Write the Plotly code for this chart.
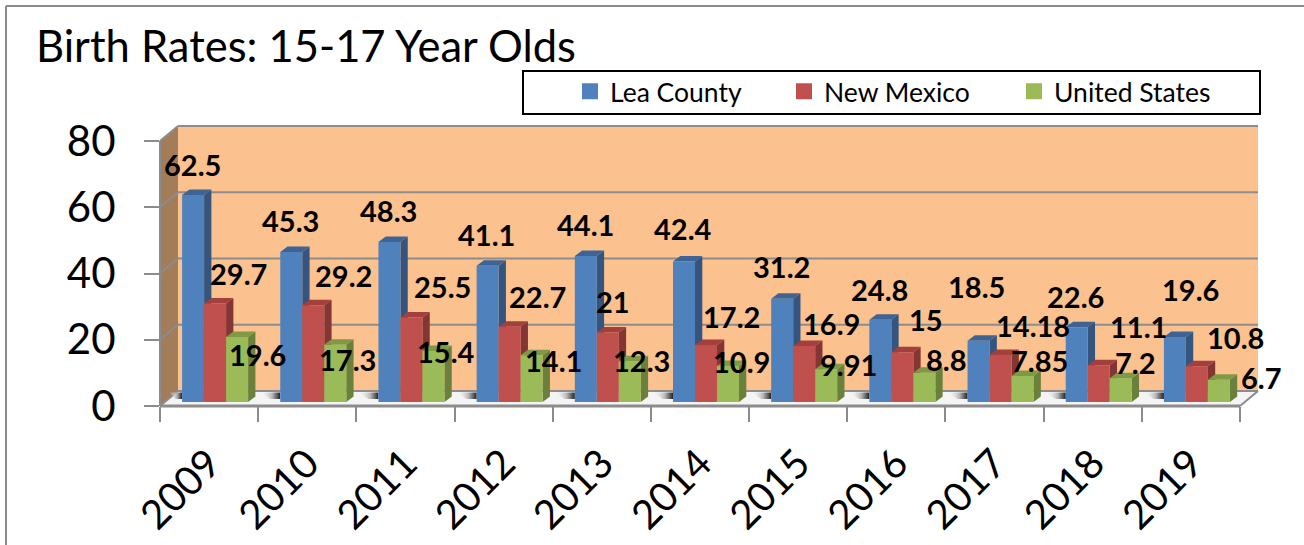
import plotly.graph_objects as go

years = ["2009", "2010", "2011", "2012", "2013", "2014", "2015", "2016", "2017", "2018", "2019"]
lea_county = [62.5, 45.3, 48.3, 41.1, 44.1, 42.4, 31.2, 24.8, 18.5, 22.6, 19.6]
new_mexico = [29.7, 29.2, 25.5, 22.7, 21, 17.2, 16.9, 15, 14.18, 11.1, 10.8]
united_states = [19.6, 17.3, 15.4, 14.1, 12.3, 10.9, 9.91, 8.8, 7.85, 7.2, 6.7]
y_ticks = [0, 20, 40, 60, 80]
title_text = "Birth Rates: 15-17 Year Olds"

series_names = ["Lea County", "New Mexico", "United States"]
series_values = [lea_county, new_mexico, united_states]

# styles
FONT = "Lato"
front_colors = ["#4F81BD", "#C0504D", "#9BBB59"]
side_colors = ["#35557F", "#843634", "#6A803B"]
top_colors = ["#3D6494", "#A33F3D", "#7F9A45"]
WALL = "#FBC18F"
SIDE_WALL = "#A37C5A"
GRID = "#8C8C8C"

# layout in pixels
W, H = 1304, 545
L, R, Y0, Y80 = 160, 1240, 406, 141      # front plane of the axes
DX, DY = 18, 15                          # depth of the walls
BAR_DX, BAR_DY = 6, 4                    # bars sit a little behind the front plane
FACE_DX, FACE_DY = 7.3, 5.5              # depth of each bar
CAT_W = (R - L) / len(years)
UNIT = (Y0 - Y80) / 80
BAR_W = 22 / CAT_W
HALF = 1.5 * BAR_W
ddx = FACE_DX / CAT_W
ddy = FACE_DY / UNIT


def px(x):
    return x / W


def py(y):
    return 1 - y / H


def vy(v):
    return Y0 - v * UNIT


def poly(points, fill, line=None):
    path = "M" + " L".join(f"{px(a):.5f},{py(b):.5f}" for a, b in points) + " Z"
    return dict(type="path", xref="paper", yref="paper", path=path, fillcolor=fill,
                line=dict(width=0) if line is None else line, layer="below")


def seg(x0, y0, x1, y1, width=2, color=GRID):
    return dict(type="line", xref="paper", yref="paper", x0=px(x0), y0=py(y0), x1=px(x1), y1=py(y1),
                line=dict(color=color, width=width), layer="below")


fig = go.Figure()

# main axis trace: carries the year categories
fig.add_trace(go.Scatter(x=years, y=[0] * len(years), mode="markers", marker=dict(opacity=0),
                         showlegend=False, hoverinfo="skip", xaxis="x", yaxis="y"))

# floor shadows between the groups
for i in range(len(years)):
    xl = -0.5 if i == 0 else i - 1 + HALF + ddx
    xr = i - HALF
    span = xr - xl
    fig.add_trace(go.Scatter(
        x=[xl + 0.2 * span, xr, xr, xl + 0.6 * span],
        y=[2.9, 2.9, 0.9, 0.9], mode="none", fill="toself",
        fillgradient=dict(type="horizontal", colorscale=[[0, "rgba(244,244,244,0)"], [0.6, "#b5b5b5"], [1, "#222222"]]),
        showlegend=False, hoverinfo="skip", xaxis="x2", yaxis="y2"))

# side and top faces of the bars, computed from the values
for k, values in enumerate(series_values):
    side_x, side_y, top_x, top_y = [], [], [], []
    for i, v in enumerate(values):
        a = i - HALF + k * BAR_W
        b = a + BAR_W
        side_x += [b, b, b + ddx, b + ddx, None]
        side_y += [0, v, v + ddy, ddy, None]
        top_x += [a, b, b + ddx, a + ddx, None]
        top_y += [v, v, v + ddy, v + ddy, None]
    fig.add_trace(go.Scatter(x=side_x, y=side_y, mode="none", fill="toself", fillcolor=side_colors[k],
                             showlegend=False, hoverinfo="skip", xaxis="x2", yaxis="y2"))
    fig.add_trace(go.Scatter(x=top_x, y=top_y, mode="none", fill="toself", fillcolor=top_colors[k],
                             showlegend=False, hoverinfo="skip", xaxis="x2", yaxis="y2"))

# front faces
for k, values in enumerate(series_values):
    fig.add_trace(go.Bar(x=list(range(len(years))), y=values, name=series_names[k],
                         marker=dict(color=front_colors[k], line=dict(width=0)),
                         showlegend=False, xaxis="x3", yaxis="y3"))

# one legend per series so each entry sits where it should
legend_names = ["legend", "legend2", "legend3"]
legend_px = [570, 784, 1014]
for k, name in enumerate(series_names):
    fig.add_trace(go.Scatter(x=[None], y=[None], mode="markers", name=name,
                             marker=dict(color=front_colors[k], symbol="square", size=16),
                             legend=legend_names[k], xaxis="x3", yaxis="y3"))

# walls, floor, grid
shapes = [
    poly([(L + DX, vy(80) - DY), (R + DX, vy(80) - DY), (R + DX, vy(0) - DY), (L + DX, vy(0) - DY)], WALL),
    poly([(L, vy(80)), (L + DX, vy(80) - DY), (L + DX, vy(0) - DY), (L, vy(0))], SIDE_WALL),
    poly([(L, vy(0)), (L + DX, vy(0) - DY), (R + DX, vy(0) - DY), (R, vy(0))], "#F4F4F4"),
    seg(L, vy(0), L, vy(80)),
    seg(L + DX, vy(0) - DY, R + DX, vy(0) - DY),
    seg(R, vy(0), R + DX, vy(0) - DY),
    seg(L, vy(0), R, vy(0), 3),
    # chart frame
    seg(6, 6, W, 6, 2, "#8A8A8A"),
    seg(6, 6, 6, H, 2, "#8A8A8A"),
    # legend box
    dict(type="rect", xref="paper", yref="paper", x0=px(523), x1=px(1260), y0=py(114), y1=py(71),
         fillcolor="white", line=dict(color="black", width=2), layer="below"),
]
for t in y_ticks:
    shapes.append(seg(L, vy(t), L + DX, vy(t) - DY))
    if t > 0:
        shapes.append(seg(L + DX, vy(t) - DY, R + DX, vy(t) - DY))

# data labels: positions in pixels (label centres), hand placed in the source chart
label_px = [
    [(192, 165), (290, 220), (388, 210), (486, 234), (585, 224), (683, 229), (781, 266), (879, 289), (977, 286), (1075, 296), (1190, 289)],
    [(238, 273), (343, 275), (442, 286), (537, 296), (613, 301), (731, 316), (831, 323), (926, 319), (1033, 325), (1138, 326), (1235, 337)],
    [(257, 354), (347, 359), (446, 351), (553, 360), (641, 360), (741, 361), (848, 364), (946, 359), (1039, 360), (1135, 362), (1261, 377)],
]
annotations = []
for values, places in zip(series_values, label_px):
    for v, (ax_, ay_) in zip(values, places):
        annotations.append(dict(xref="paper", yref="paper", x=px(ax_), y=py(ay_), text=f"<b>{v:g}</b>",
                                showarrow=False, xanchor="center", yanchor="middle",
                                font=dict(family=FONT, size=29, color="black")))

dom_x = [px(L), px(R)]
dom_y = [py(Y0), py(Y80)]
bar_dom_x = [px(L + BAR_DX), px(R + BAR_DX)]
bar_dom_y = [py(Y0 - BAR_DY), py(Y80 - BAR_DY)]
rng_x = [-0.5, len(years) - 0.5]


def hidden_x():
    return dict(domain=bar_dom_x, range=rng_x, visible=False, fixedrange=True)


def hidden_y():
    return dict(domain=bar_dom_y, range=[0, 80], visible=False, fixedrange=True)


legend_common = dict(orientation="h", xanchor="left", yanchor="middle", y=py(91.5),
                     bgcolor="rgba(0,0,0,0)", borderwidth=0, font=dict(family=FONT, size=26.5, color="black"),
                     itemclick=False, itemdoubleclick=False)

layout_legends = {legend_names[k]: dict(x=px(legend_px[k]), **legend_common) for k in range(3)}

fig.update_layout(
    width=W, height=H, margin=dict(l=0, r=0, t=0, b=0, pad=0, autoexpand=False),
    paper_bgcolor="white", plot_bgcolor="rgba(0,0,0,0)",
    barmode="group", bargap=1 - 3 * BAR_W, bargroupgap=0,
    title=dict(text=title_text, x=px(36), xanchor="left", y=py(47), yanchor="middle",
               font=dict(family=FONT, size=43.5, color="black")),
    xaxis=dict(domain=dom_x, type="category", range=rng_x, tickson="boundaries", ticks="outside",
               ticklen=15, tickwidth=2, tickcolor=GRID, showgrid=False, showline=False, zeroline=False,
               ticklabelstandoff=25,
               tickangle=-45, tickfont=dict(family=FONT, size=40, color="black"), fixedrange=True, anchor="y"),
    yaxis=dict(domain=dom_y, range=[0, 80], tickvals=y_ticks, ticks="outside", ticklen=15, tickwidth=2,
               tickcolor=GRID, showgrid=False, showline=False, zeroline=False,
               ticklabelstandoff=20,
               tickfont=dict(family=FONT, size=42, color="black"), fixedrange=True, anchor="x"),
    xaxis2=dict(anchor="y2", **hidden_x()), yaxis2=dict(anchor="x2", **hidden_y()),
    xaxis3=dict(anchor="y3", **hidden_x()), yaxis3=dict(anchor="x3", **hidden_y()),
    shapes=shapes, annotations=annotations, **layout_legends,
)

fig.write_html("out.html", config=dict(displayModeBar=False),
               post_script="document.body.style.margin='0';document.body.style.overflow='hidden';")
